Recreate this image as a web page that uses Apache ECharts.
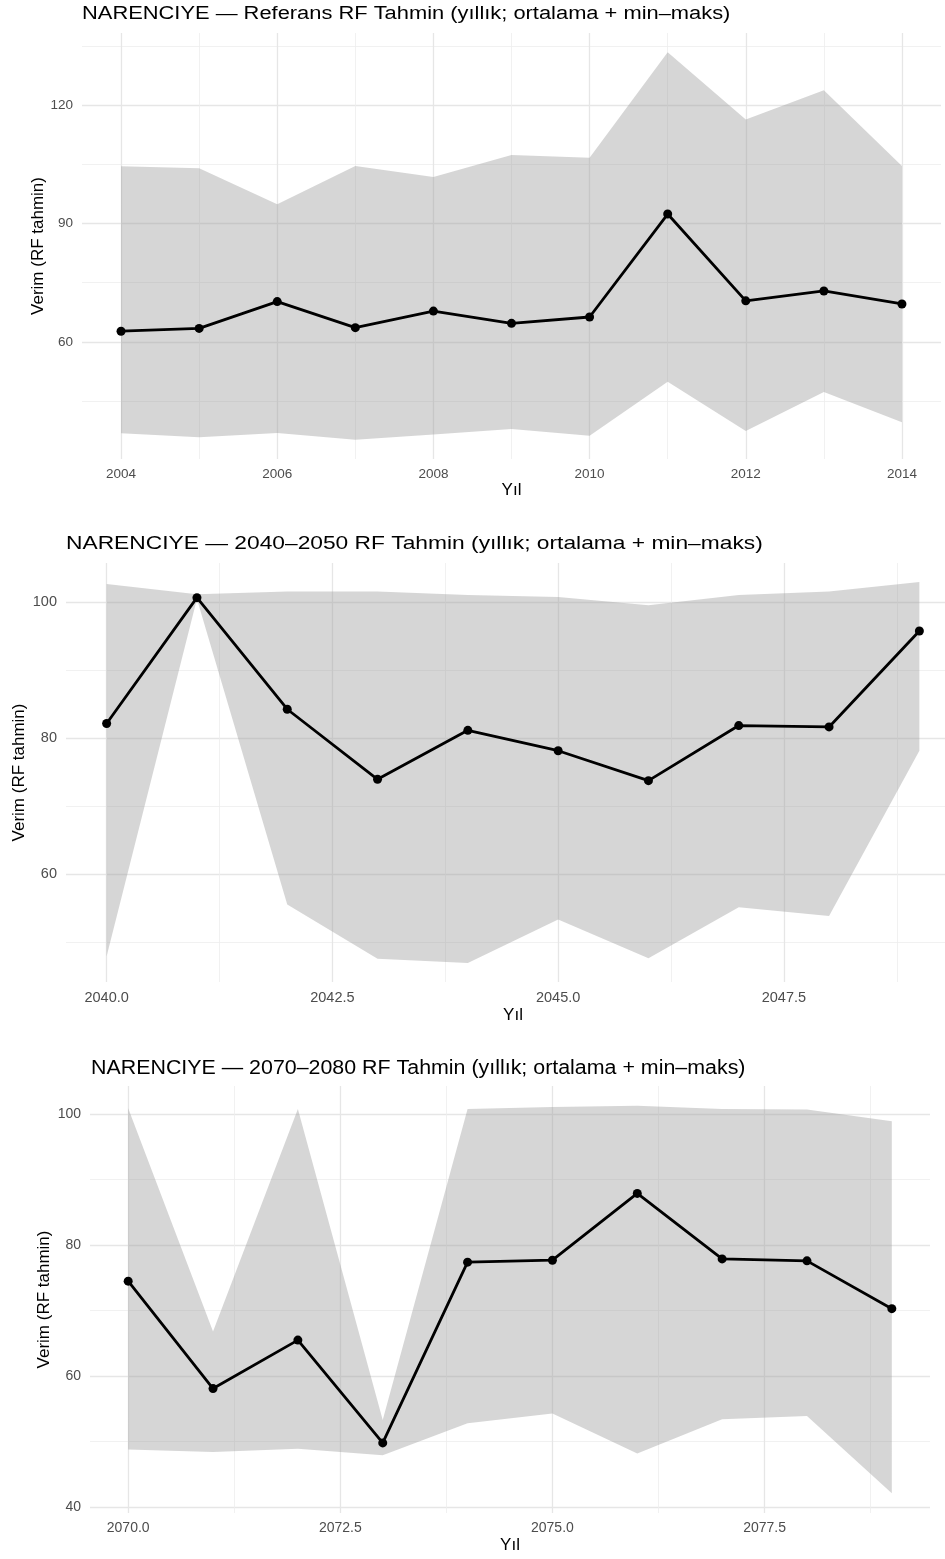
<!DOCTYPE html>
<html>
<head>
<meta charset="utf-8">
<title>NARENCIYE RF Tahmin</title>
<script src="https://cdn.jsdelivr.net/npm/echarts@6/dist/echarts.min.js"></script>
<style>
  html, body { margin: 0; padding: 0; background: #fff; }
  #chart { width: 945px; height: 1559px; }
</style>
</head>
<body>
<div id="chart"></div>
<script>
// referans dönemi 2004-2014
const refYears = [2004, 2005, 2006, 2007, 2008, 2009, 2010, 2011, 2012, 2013, 2014]
const refMean = [62.7, 63.4, 70.2, 63.6, 67.8, 64.7, 66.3, 92.4, 70.4, 72.9, 69.6]
const refMin = [36.8, 35.8, 36.9, 35.2, 36.5, 37.9, 36.2, 49.9, 37.4, 47.3, 39.6]
const refMax = [104.5, 104.0, 94.9, 104.6, 101.8, 107.4, 106.7, 133.4, 116.4, 123.8, 104.6]

// 2040-2050
const midYears = [2040, 2041, 2042, 2043, 2044, 2045, 2046, 2047, 2048, 2049]
const midMean = [82.1, 100.6, 84.2, 73.9, 81.1, 78.1, 73.7, 81.8, 81.6, 95.7]
const midMin = [47.9, 100.4, 55.5, 47.5, 46.9, 53.3, 47.6, 55.1, 53.8, 78.1]
const midMax = [102.6, 101.1, 101.5, 101.5, 101.0, 100.7, 99.5, 101.0, 101.5, 102.9]

// 2070-2080
const farYears = [2070, 2071, 2072, 2073, 2074, 2075, 2076, 2077, 2078, 2079]
const farMean = [74.5, 58.1, 65.5, 49.8, 77.4, 77.7, 87.9, 77.9, 77.6, 70.3]
const farMin = [48.8, 48.4, 48.9, 47.9, 52.8, 54.3, 48.2, 53.4, 53.9, 42.1]
const farMax = [100.9, 66.8, 100.8, 53.3, 100.8, 101.1, 101.3, 100.8, 100.7, 98.9]

// eksen çizgileri / etiketleri
const refXTicks = [2004, 2006, 2008, 2010, 2012, 2014]
const refXMinor = [2005, 2007, 2009, 2011, 2013]
const refYTicks = [60, 90, 120]
const refYMinor = [45, 75, 105, 135]
const midXTicks = [2040, 2042.5, 2045, 2047.5]
const midXMinor = [2041.25, 2043.75, 2046.25, 2048.75]
const midYTicks = [60, 80, 100]
const midYMinor = [50, 70, 90]
const farXTicks = [2070, 2072.5, 2075, 2077.5]
const farXMinor = [2071.25, 2073.75, 2076.25, 2078.75]
const farYTicks = [40, 60, 80, 100]
const farYMinor = [50, 70, 90]

const FONT = 'Liberation Sans, Arial, sans-serif'

const panels = [
  {
    title: 'NARENCIYE — Referans RF Tahmin (yıllık; ortalama + min–maks)',
    years: refYears, mean: refMean, lo: refMin, hi: refMax,
    xTicks: refXTicks, xMinor: refXMinor, yTicks: refYTicks, yMinor: refYMinor,
    xRange: [2003.5, 2014.5], yRange: [30.3, 138.3], digits: 0,
    grid: { left: 82, top: 33, width: 859, height: 426 },
    titlePos: [82, 5], titleSize: 18, titleScale: 1.215,
    labelSize: 13.5, xNameGap: 23, yNameGap: 35
  },
  {
    title: 'NARENCIYE — 2040–2050 RF Tahmin (yıllık; ortalama + min–maks)',
    years: midYears, mean: midMean, lo: midMin, hi: midMax,
    xTicks: midXTicks, xMinor: midXMinor, yTicks: midYTicks, yMinor: midYMinor,
    xRange: [2039.55, 2049.45], yRange: [44.1, 105.7], digits: 1,
    grid: { left: 66, top: 563, width: 894, height: 419 },
    titlePos: [66, 534], titleSize: 18.5, titleScale: 1.231,
    labelSize: 14.5, xNameGap: 25, yNameGap: 38
  },
  {
    title: 'NARENCIYE — 2070–2080 RF Tahmin (yıllık; ortalama + min–maks)',
    years: farYears, mean: farMean, lo: farMin, hi: farMax,
    xTicks: farXTicks, xMinor: farXMinor, yTicks: farYTicks, yMinor: farYMinor,
    xRange: [2069.55, 2079.45], yRange: [39.1, 104.3], digits: 1,
    grid: { left: 90, top: 1086, width: 840, height: 427 },
    titlePos: [91, 1059], titleSize: 19.5, titleScale: 1.097,
    labelSize: 14, xNameGap: 24, yNameGap: 37
  }
]

// min-maks bandı: tek poligon
function ribbon (years, lo, hi) {
  return function (params, api) {
    if (params.dataIndex !== 0) return null
    const upper = years.map((y, i) => api.coord([y, hi[i]]))
    const lower = years.map((y, i) => api.coord([y, lo[i]])).reverse()
    return {
      type: 'polygon',
      shape: { points: upper.concat(lower) },
      style: { fill: 'rgba(153,153,153,0.4)' }
    }
  }
}

const grids = []
const xAxes = []
const yAxes = []
const series = []
const graphics = []

panels.forEach((p, i) => {
  grids.push(Object.assign({ outerBoundsMode: 'none', containLabel: false }, p.grid))
  // ana ızgara + etiketler
  xAxes.push({
    gridIndex: i, type: 'value', min: p.xRange[0], max: p.xRange[1],
    name: 'Yıl', nameLocation: 'middle', nameGap: p.xNameGap, nameMoveOverlap: false,
    nameTextStyle: { fontSize: 17, color: '#000', fontFamily: FONT },
    axisLine: { show: false },
    axisTick: { show: false, customValues: p.xTicks },
    axisLabel: {
      customValues: p.xTicks, fontSize: p.labelSize, color: '#4d4d4d', margin: 8,
      formatter: v => v.toFixed(p.digits)
    },
    splitLine: { show: true, lineStyle: { color: '#e6e6e6', width: 1.3 } }
  })
  // ara ızgara
  xAxes.push({
    gridIndex: i, type: 'value', position: 'bottom', min: p.xRange[0], max: p.xRange[1],
    axisLine: { show: false },
    axisTick: { show: false, customValues: p.xMinor },
    axisLabel: { show: false },
    splitLine: { show: true, lineStyle: { color: '#eeeeee', width: 0.8 } }
  })
  yAxes.push({
    gridIndex: i, type: 'value', min: p.yRange[0], max: p.yRange[1],
    name: 'Verim (RF tahmin)', nameLocation: 'middle', nameGap: p.yNameGap, nameRotate: 90,
    nameMoveOverlap: false,
    nameTextStyle: { fontSize: 17, color: '#000', fontFamily: FONT },
    axisLine: { show: false },
    axisTick: { show: false, customValues: p.yTicks },
    axisLabel: { customValues: p.yTicks, fontSize: p.labelSize, color: '#4d4d4d', margin: 9 },
    splitLine: { show: true, lineStyle: { color: '#e6e6e6', width: 1.3 } }
  })
  yAxes.push({
    gridIndex: i, type: 'value', position: 'left', min: p.yRange[0], max: p.yRange[1],
    axisLine: { show: false },
    axisTick: { show: false, customValues: p.yMinor },
    axisLabel: { show: false },
    splitLine: { show: true, lineStyle: { color: '#eeeeee', width: 0.8 } }
  })

  series.push({
    type: 'custom',
    xAxisIndex: i * 2, yAxisIndex: i * 2,
    renderItem: ribbon(p.years, p.lo, p.hi),
    data: p.years.map((y, k) => [y, p.lo[k], p.hi[k]]),
    encode: { x: 0, y: [1, 2] },
    silent: true,
    z: 2
  })
  series.push({
    type: 'line',
    xAxisIndex: i * 2, yAxisIndex: i * 2,
    data: p.years.map((y, k) => [y, p.mean[k]]),
    symbol: 'circle', symbolSize: 9, showSymbol: true,
    itemStyle: { color: '#000' },
    lineStyle: { color: '#000', width: 2.8 },
    z: 3
  })

  graphics.push({
    type: 'text', left: p.titlePos[0], top: p.titlePos[1], scaleX: p.titleScale,
    style: { text: p.title, fontSize: p.titleSize, fontFamily: FONT, fill: '#000' }
  })
})

const chart = echarts.init(document.getElementById('chart'))
chart.setOption({
  animation: false,
  backgroundColor: '#fff',
  textStyle: { fontFamily: FONT },
  grid: grids,
  xAxis: xAxes,
  yAxis: yAxes,
  series: series,
  graphic: graphics
})
</script>
</body>
</html>
